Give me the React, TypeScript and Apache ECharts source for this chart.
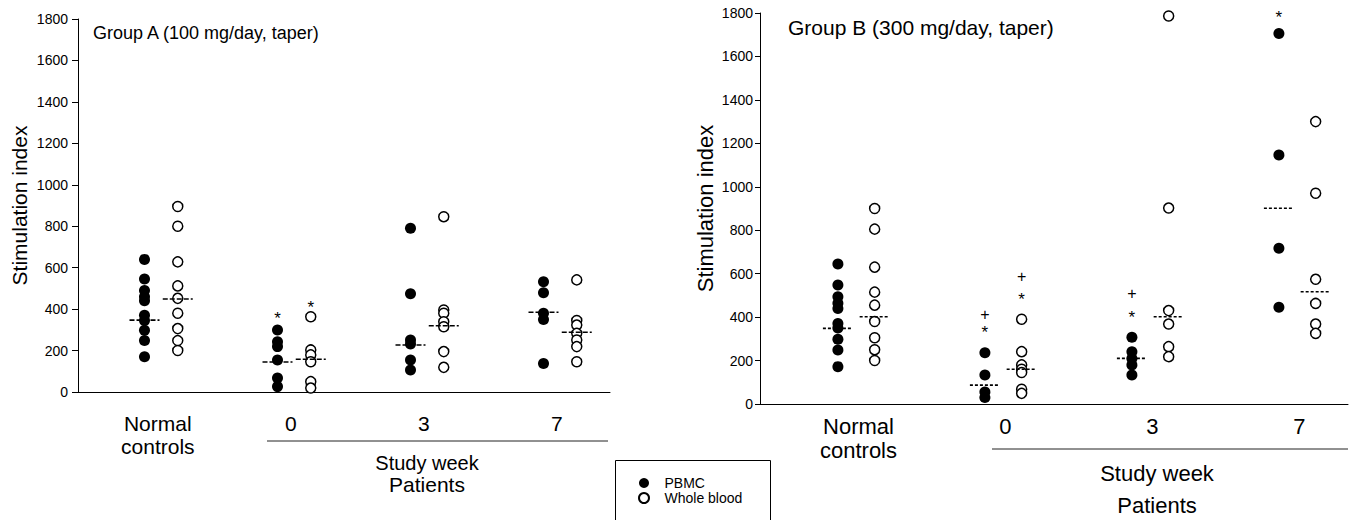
import React, { useEffect, useRef } from "react";
import * as echarts from "echarts";

// ---- data ----
const categories = ["Normal\ncontrols", "0", "3", "7"];
const seriesNames = ["PBMC", "Whole blood"];

// Group A (100 mg/day, taper)
const groupA_PBMC: number[][] = [
  [640, 545, 490, 460, 440, 370, 345, 298, 248, 170],
  [299, 243, 219, 154, 67, 26],
  [790, 474, 251, 232, 154, 106],
  [532, 479, 380, 350, 138],
];
const groupA_WB: number[][] = [
  [895, 800, 628, 512, 452, 380, 306, 248, 200],
  [363, 203, 179, 146, 50, 19],
  [846, 396, 380, 339, 315, 195, 119],
  [541, 345, 323, 283, 251, 219, 146],
];
const groupA_medianPBMC = [347, 145, 227, 385];
const groupA_medianWB = [449, 158, 320, 288];
// annotations: [category index, series (0 PBMC, 1 WB), value, symbol]
const groupA_marks: [number, number, number, string][] = [
  [1, 0, 372, "*"],
  [1, 1, 428, "*"],
];

// Group B (300 mg/day, taper)
const groupB_PBMC: number[][] = [
  [645, 548, 494, 464, 440, 371, 350, 298, 249, 172],
  [236, 134, 55, 30],
  [307, 241, 210, 180, 134],
  [1706, 1146, 717, 445],
];
const groupB_WB: number[][] = [
  [900, 805, 630, 515, 455, 380, 305, 250, 200],
  [390, 241, 180, 160, 145, 68, 49],
  [1786, 902, 430, 368, 264, 218],
  [1300, 970, 574, 463, 368, 325],
];
const groupB_medianPBMC = [348, 87, 210, 901];
const groupB_medianWB = [402, 160, 402, 517];
const groupB_marks: [number, number, number, string][] = [
  [1, 0, 412, "+"],
  [1, 0, 348, "*"],
  [1, 1, 585, "+"],
  [1, 1, 499, "*"],
  [2, 0, 507, "+"],
  [2, 0, 417, "*"],
  [3, 0, 1796, "*"],
];

const titles = ["Group A (100 mg/day, taper)", "Group B (300 mg/day, taper)"];
const yAxisName = "Stimulation index";
const yMin = 0;
const yMax = 1800;
const yInterval = 200;

// ---- layout ----
const FONT = "'Liberation Sans', Arial, Helvetica, sans-serif";
const panels = [
  {
    grid: { left: 78, top: 19, width: 532, height: 373 },
    offsets: [0.5, 0.75],
    labelOffset: 0.6,
    PBMC: groupA_PBMC,
    WB: groupA_WB,
    medPBMC: groupA_medianPBMC,
    medWB: groupA_medianWB,
    marks: groupA_marks,
    titleFont: 18,
    titlePos: { left: 93, top: 24 },
    nameFont: 21,
    nameGap: 48,
    catFont: 21,
    catLineHeight: 23,
    catMargin: 20,
    tickLen: 6,
    labelMargin: 10,
    dash: [5, 2],
  },
  {
    grid: { left: 760, top: 13, width: 588, height: 391 },
    offsets: [0.53, 0.78],
    labelOffset: 0.67,
    PBMC: groupB_PBMC,
    WB: groupB_WB,
    medPBMC: groupB_medianPBMC,
    medWB: groupB_medianWB,
    marks: groupB_marks,
    titleFont: 21,
    titlePos: { left: 788, top: 17 },
    nameFont: 22,
    nameGap: 44,
    catFont: 22,
    catLineHeight: 24,
    catMargin: 10,
    tickLen: 5,
    labelMargin: 7,
    dash: [3, 2],
  },
];

function buildOption() {
  const grid: any[] = [];
  const xAxis: any[] = [];
  const yAxis: any[] = [];
  const series: any[] = [];
  const title: any[] = [];

  panels.forEach((p, gi) => {
    grid.push({ ...p.grid, containLabel: false });
    title.push({
      text: titles[gi],
      left: p.titlePos.left,
      top: p.titlePos.top,
      padding: 0,
      textStyle: { fontFamily: FONT, fontSize: p.titleFont, fontWeight: "normal", color: "#000" },
    });
    const labelValues = categories.map((_, i) => i + p.labelOffset);
    xAxis.push({
      type: "value",
      gridIndex: gi,
      min: 0,
      max: categories.length,
      axisLine: { show: true, onZero: false, lineStyle: { color: "#000", width: 1 } },
      axisTick: { show: false },
      splitLine: { show: false },
      axisLabel: {
        customValues: labelValues,
        formatter: (v: number) => {
          const idx = Math.round(v - p.labelOffset);
          return categories[idx] ?? "";
        },
        margin: p.catMargin,
        fontFamily: FONT,
        fontSize: p.catFont,
        lineHeight: p.catLineHeight,
        color: "#000",
        align: "center",
        verticalAlign: "top",
      },
    });
    yAxis.push({
      type: "value",
      gridIndex: gi,
      min: yMin,
      max: yMax,
      interval: yInterval,
      name: yAxisName,
      nameLocation: "middle",
      nameRotate: 90,
      nameGap: p.nameGap,
      nameTextStyle: { fontFamily: FONT, fontSize: p.nameFont, color: "#000" },
      axisLine: { show: true, lineStyle: { color: "#000", width: 1 } },
      axisTick: { show: true, length: p.tickLen, lineStyle: { color: "#000" } },
      splitLine: { show: false },
      axisLabel: {
        fontFamily: FONT,
        fontSize: 14,
        color: "#000",
        margin: p.labelMargin,
        formatter: (v: number) => String(v),
      },
    });

    const pbmcData: number[][] = [];
    const wbData: number[][] = [];
    p.PBMC.forEach((vals, ci) => vals.forEach((v) => pbmcData.push([ci + p.offsets[0], v])));
    p.WB.forEach((vals, ci) => vals.forEach((v) => wbData.push([ci + p.offsets[1], v])));

    series.push({
      name: seriesNames[0],
      type: "scatter",
      xAxisIndex: gi,
      yAxisIndex: gi,
      symbol: "circle",
      symbolSize: 11,
      itemStyle: { color: "#000", opacity: 1 },
      data: pbmcData,
      z: 3,
    });
    series.push({
      name: seriesNames[1],
      type: "scatter",
      xAxisIndex: gi,
      yAxisIndex: gi,
      symbol: "circle",
      symbolSize: 10,
      itemStyle: { color: "#fff", borderColor: "#000", borderWidth: 1.5, opacity: 1 },
      data: wbData,
      z: 3,
    });

    const medData: number[][] = [];
    p.medPBMC.forEach((m, ci) => medData.push([ci + p.offsets[0], m]));
    p.medWB.forEach((m, ci) => medData.push([ci + p.offsets[1], m]));
    const dash = p.dash;
    series.push({
      type: "custom",
      xAxisIndex: gi,
      yAxisIndex: gi,
      data: medData,
      z: 4,
      silent: true,
      renderItem: (params: any, api: any) => {
        const pt = api.coord([api.value(0), api.value(1)]);
        return {
          type: "line",
          shape: { x1: pt[0] - 15, y1: pt[1], x2: pt[0] + 15, y2: pt[1] },
          style: { stroke: "#000", lineWidth: 1.6, lineDash: dash },
        };
      },
    });

    const markData = p.marks.map((m) => [m[0] + p.offsets[m[1]], m[2]]);
    const markTexts = p.marks.map((m) => m[3]);
    series.push({
      type: "custom",
      xAxisIndex: gi,
      yAxisIndex: gi,
      data: markData,
      z: 5,
      silent: true,
      clip: false,
      renderItem: (params: any, api: any) => {
        const pt = api.coord([api.value(0), api.value(1)]);
        const t = markTexts[params.dataIndex];
        const fs = t === "*" ? 17 : 16;
        const dy = t === "*" ? 0.23 * fs : 0;
        return {
          type: "text",
          x: pt[0],
          y: pt[1] + dy,
          style: {
            text: t,
            fontFamily: FONT,
            fontSize: fs,
            lineHeight: fs,
            fill: "#000",
            align: "center",
            verticalAlign: "middle",
          },
        };
      },
    });
  });

  const graphic: any[] = [
    // Patients brackets and labels, Group A
    { type: "line", shape: { x1: 267, y1: 441, x2: 608, y2: 441 }, style: { stroke: "#222", lineWidth: 1 } },
    { type: "text", x: 427, y: 463, style: { text: "Study week", fontFamily: FONT, fontSize: 20, fill: "#000", align: "center", verticalAlign: "middle" } },
    { type: "text", x: 427, y: 484, style: { text: "Patients", fontFamily: FONT, fontSize: 21, fill: "#000", align: "center", verticalAlign: "middle" } },
    // Group B
    { type: "line", shape: { x1: 992, y1: 449, x2: 1348, y2: 449 }, style: { stroke: "#222", lineWidth: 1 } },
    { type: "text", x: 1157, y: 473, style: { text: "Study week", fontFamily: FONT, fontSize: 22, fill: "#000", align: "center", verticalAlign: "middle" } },
    { type: "text", x: 1157, y: 505, style: { text: "Patients", fontFamily: FONT, fontSize: 22, fill: "#000", align: "center", verticalAlign: "middle" } },
    // legend frame
    { type: "rect", shape: { x: 615.5, y: 460.5, width: 155, height: 80 }, style: { fill: "none", stroke: "#000", lineWidth: 1 }, z: 0 },
  ];

  return {
    animation: false,
    backgroundColor: "#fff",
    title,
    grid,
    xAxis,
    yAxis,
    series,
    graphic,
    legend: {
      data: seriesNames,
      orient: "vertical",
      left: 638,
      top: 476,
      padding: 0,
      itemWidth: 11,
      itemHeight: 10,
      itemGap: 1,
      selectedMode: false,
      textStyle: { fontFamily: FONT, fontSize: 14, color: "#000", lineHeight: 11, padding: [0, 0, 0, 10] },
    },
  };
}

export default function App() {
  const ref = useRef<HTMLDivElement>(null);
  useEffect(() => {
    if (!ref.current) return;
    const chart = echarts.init(ref.current, undefined, { renderer: "svg" });
    chart.setOption(buildOption() as any);
    return () => chart.dispose();
  }, []);
  return (
    <div
      ref={ref}
      style={{ position: "fixed", left: 0, top: 0, width: 1351, height: 520, background: "#fff" }}
    />
  );
}
